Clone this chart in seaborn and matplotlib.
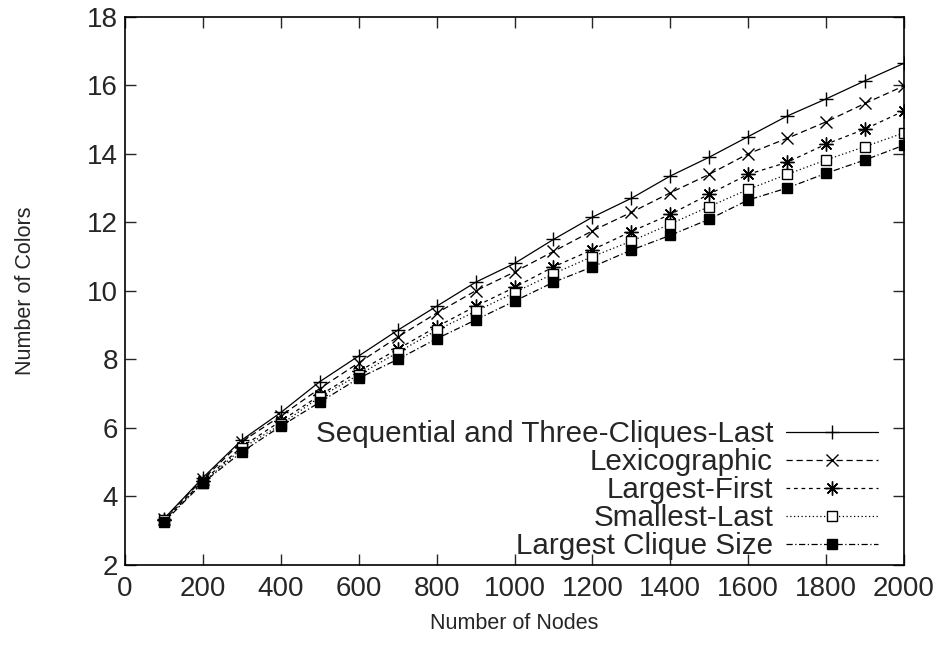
import pandas as pd
import numpy as np
import matplotlib.pyplot as plt
import seaborn as sns

# values
nodes = list(range(100, 2001, 100))

sequential = [3.35, 4.55, 5.65, 6.45, 7.35, 8.1, 8.85, 9.55, 10.25, 10.8,
              11.5, 12.15, 12.7, 13.35, 13.9, 14.5, 15.1, 15.6, 16.13, 16.64]
lexicographic = [3.35, 4.5, 5.6, 6.35, 7.15, 7.9, 8.65, 9.35, 10.0, 10.55,
                 11.15, 11.75, 12.29, 12.86, 13.4, 14.0, 14.45, 14.93, 15.47, 15.98]
largest_first = [3.3, 4.45, 5.45, 6.2, 6.95, 7.65, 8.3, 8.95, 9.55, 10.1,
                 10.7, 11.2, 11.73, 12.23, 12.82, 13.4, 13.75, 14.28, 14.72, 15.25]
smallest_last = [3.3, 4.4, 5.4, 6.1, 6.9, 7.55, 8.2, 8.85, 9.4, 9.95,
                 10.5, 11.0, 11.45, 11.95, 12.46, 12.96, 13.4, 13.82, 14.21, 14.61]
largest_clique = [3.25, 4.4, 5.3, 6.05, 6.75, 7.45, 8.0, 8.6, 9.15, 9.7,
                  10.25, 10.7, 11.19, 11.62, 12.09, 12.65, 13.0, 13.43, 13.82, 14.25]

methods = ['Sequential and Three-Cliques-Last', 'Lexicographic', 'Largest-First',
           'Smallest-Last', 'Largest Clique Size']
series = [sequential, lexicographic, largest_first, smallest_last, largest_clique]

x_ticks = list(range(0, 2001, 200))
y_ticks = list(range(2, 19, 2))

df = pd.concat([pd.DataFrame({'nodes': nodes, 'colors': s, 'method': m})
                for m, s in zip(methods, series)], ignore_index=True)

sns.set_style('ticks')
plt.rcParams['font.family'] = ['Liberation Sans', 'DejaVu Sans']

fig = plt.figure(figsize=(9.43, 6.51), dpi=100)
ax = fig.add_axes([0.1326, 0.1321, 0.826, 0.8423])

# gnuplot-like point and line types
styles = {
    'Sequential and Three-Cliques-Last': dict(marker='+', ls='-', mfc='black', ms=10),
    'Lexicographic': dict(marker='x', ls=(0, (5, 3)), mfc='black', ms=8),
    'Largest-First': dict(marker=(8, 2, 0), ls=(0, (3, 3)), mfc='black', ms=10),
    'Smallest-Last': dict(marker='s', ls=(0, (1, 2)), mfc='white', ms=7),
    'Largest Clique Size': dict(marker='s', ls=(0, (5, 2, 1, 2)), mfc='black', ms=7),
}

for m in methods:
    st = styles[m]
    sns.lineplot(data=df[df['method'] == m], x='nodes', y='colors', ax=ax,
                 color='black', linewidth=0.9, marker=st['marker'], linestyle=st['ls'],
                 markersize=st['ms'], markerfacecolor=st['mfc'], markeredgecolor='black',
                 markeredgewidth=1.0, label=m)

ax.set_xlim(0, 2000)
ax.set_ylim(2, 18)
ax.set_xticks(x_ticks)
ax.set_yticks(y_ticks)
ax.tick_params(direction='in', length=8, width=1, top=True, right=True,
               labelsize=20)
ax.tick_params(axis='x', pad=8)
ax.tick_params(axis='y', pad=5)
for sp in ax.spines.values():
    sp.set_visible(True)
    sp.set_linewidth(1.2)
    sp.set_color('black')

ax.set_xlabel('Number of Nodes', fontsize=15.5, labelpad=8)
ax.set_ylabel('Number of Colors', fontsize=15.5, labelpad=37)

handles, labels = ax.get_legend_handles_labels()
leg = ax.legend(handles, labels, loc='lower right', bbox_to_anchor=(0.982, -0.013),
                markerfirst=False, frameon=False, fontsize=21.3, handlelength=3.1,
                labelspacing=0.0, handletextpad=0.45, borderaxespad=0.0)

fig.savefig('out.png', dpi=100)
